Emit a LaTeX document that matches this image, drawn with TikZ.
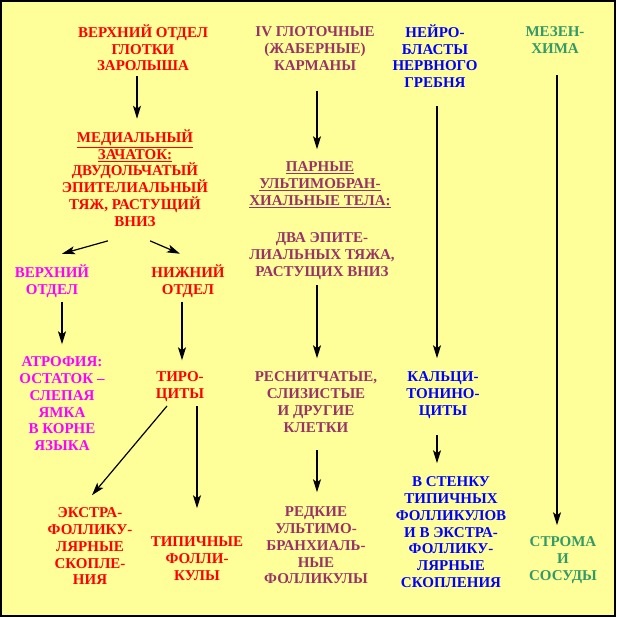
\documentclass[tikz,border=0pt]{standalone}
\usepackage{fontspec}
\setmainfont{Liberation Serif}
\usetikzlibrary{arrows.meta}
\definecolor{bgyellow}{HTML}{FFFF99}
\definecolor{cred}{HTML}{FF0000}
\definecolor{cmag}{HTML}{FF00FF}
\definecolor{cpur}{HTML}{993366}
\definecolor{cblue}{HTML}{0000FF}
\definecolor{cgreen}{HTML}{339966}
\begin{document}
\begin{tikzpicture}[x=1pt,y=1pt,
  lbl/.style={inner sep=0pt,outer sep=0pt,align=center,font=\fontsize{15}{16.7}\selectfont\bfseries},
  arr/.style={line width=1.2pt,-{Stealth[length=13pt,width=8pt,inset=3pt]}}]
\useasboundingbox (0,0) rectangle (617,617);
\fill[white] (0,0) rectangle (617,617);
\draw[line width=2pt,fill=bgyellow] (1,1) rectangle (615,615.5);
% column 1-2
\node[lbl,text=cred] (A) at (143,566.7) {\strut ВЕРХНИЙ ОТДЕЛ\\ГЛОТКИ\\ЗАРОЛЫША\strut};
\node[lbl,text=cred] (B) at (135,436.6) {\strut\underline{МЕДИАЛЬНЫЙ}\\\underline{ЗАЧАТОК:}\\ДВУДОЛЬЧАТЫЙ\\ЭПИТЕЛИАЛЬНЫЙ\\ТЯЖ, РАСТУЩИЙ\\ВНИЗ\strut};
\node[lbl,text=cmag] (C) at (52,335.0) {\strut ВЕРХНИЙ\\ОТДЕЛ\strut};
\node[lbl,text=cred] (D) at (188,335.0) {\strut НИЖНИЙ\\ОТДЕЛ\strut};
\node[lbl,text=cmag] (E) at (62,211.6) {\strut АТРОФИЯ:\\ОСТАТОК –\\СЛЕПАЯ\\ЯМКА\\В КОРНЕ\\ЯЗЫКА\strut};
\node[lbl,text=cred] (F) at (180,230.0) {\strut ТИРО-\\ЦИТЫ\strut};
\node[lbl,text=cred] (G) at (90,69.0) {\strut ЭКСТРА-\\ФОЛЛИКУ-\\ЛЯРНЫЕ\\СКОПЛЕ-\\НИЯ\strut};
\node[lbl,text=cred] (H) at (197,56.7) {\strut ТИПИЧНЫЕ\\ФОЛЛИ-\\КУЛЫ\strut};
% column 3
\node[lbl,text=cpur] (I) at (315,566.7) {\strut IV ГЛОТОЧНЫЕ\\(ЖАБЕРНЫЕ)\\КАРМАНЫ\strut};
\node[lbl,text=cpur] (J1) at (320,431.7) {\strut\underline{ПАРНЫЕ}\\\underline{УЛЬТИМОБРАН-}\\\underline{ХИАЛЬНЫЕ ТЕЛА:}\strut};
\node[lbl,text=cpur] (J2) at (322,360.7) {\strut ДВА ЭПИТЕ-\\ЛИАЛЬНЫХ ТЯЖА,\\РАСТУЩИХ ВНИЗ\strut};
\node[lbl,text=cpur] (K) at (316,213.3) {\strut РЕСНИТЧАТЫЕ,\\СЛИЗИСТЫЕ\\И ДРУГИЕ\\КЛЕТКИ\strut};
\node[lbl,text=cpur] (L) at (316,70.0) {\strut РЕДКИЕ\\УЛЬТИМО-\\БРАНХИАЛЬ-\\НЫЕ\\ФОЛЛИКУЛЫ\strut};
% column 4
\node[lbl,text=cblue] (M) at (435,558.3) {\strut НЕЙРО-\\БЛАСТЫ\\НЕРВНОГО\\ГРЕБНЯ\strut};
\node[lbl,text=cblue] (N) at (443,221.7) {\strut КАЛЬЦИ-\\ТОНИНО-\\ЦИТЫ\strut};
\node[lbl,text=cblue] (O) at (451,83.3) {\strut В СТЕНКУ\\ТИПИЧНЫХ\\ФОЛЛИКУЛОВ\\И В ЭКСТРА-\\ФОЛЛИКУ-\\ЛЯРНЫЕ\\СКОПЛЕНИЯ\strut};
% column 5
\node[lbl,text=cgreen] (P) at (555,575.0) {\strut МЕЗЕН-\\ХИМА\strut};
\node[lbl,text=cgreen] (Q) at (563,56.7) {\strut СТРОМА\\И\\СОСУДЫ\strut};
% arrows
\draw[arr] ([xshift=-6pt]A.south) -- ([xshift=2pt,yshift=11pt]B.north);
\draw[arr] ([xshift=-27pt,yshift=-9.8pt]B.south) -- ([xshift=10pt,yshift=11pt]C.north);
\draw[arr] ([xshift=15pt,yshift=-9.8pt]B.south) -- ([xshift=-8pt,yshift=11pt]D.north);
\draw[arr] ([xshift=10pt,yshift=-2.3pt]C.south) -- ([yshift=11pt]E.north);
\draw[arr] ([xshift=-6pt,yshift=-2.3pt]D.south) -- ([xshift=2pt,yshift=10pt]F.north);
\draw[arr] ([xshift=-13pt,yshift=-2.3pt]F.south) -- ([xshift=2pt,yshift=11pt]G.north);
\draw[arr] ([xshift=17pt,yshift=-2.3pt]F.south) -- ([yshift=27pt]H.north);
\draw[arr] ([xshift=2pt,yshift=-15.3pt]I.south) -- ([xshift=-3pt,yshift=11pt]J1.north);
\draw[arr] ([xshift=-5pt,yshift=-4pt]J2.south) -- ([xshift=1pt,yshift=12pt]K.north);
\draw[arr] ([xshift=1pt,yshift=-13pt]K.south) -- ([xshift=1pt,yshift=13pt]L.north);
\draw[arr] ([xshift=2pt,yshift=-13pt]M.south) -- ([xshift=-6pt,yshift=12pt]N.north);
\draw[arr] ([xshift=-6pt,yshift=-15pt]N.south) -- ([xshift=-14pt,yshift=12pt]O.north);
\draw[arr] ([xshift=2pt,yshift=-16.6pt]P.south) -- ([xshift=-6pt,yshift=10pt]Q.north);
\end{tikzpicture}
\end{document}
